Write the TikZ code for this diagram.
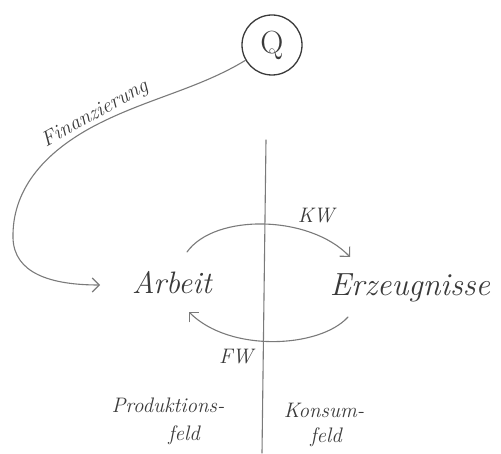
\documentclass[tikz,border=0pt]{standalone}
\usetikzlibrary{arrows.meta}
\definecolor{pencil}{HTML}{3A3A3A}
\definecolor{pencillight}{HTML}{7A7A7A}
\begin{document}
\begin{tikzpicture}[x=1pt,y=1pt,
  hand/.style={text=pencil,font=\itshape},
  small/.style={hand,font=\itshape\fontsize{21}{23}\selectfont},
  conn/.style={draw=pencillight,line width=1.1pt,line cap=round},
  tip/.style={-{Straight Barb[length=7pt,width=14pt,line width=1.1pt]}}]
\useasboundingbox (0,0) rectangle (501,453);
\node[circle,draw=pencil,line width=1.3pt,minimum size=60pt,inner sep=0pt,
      text=pencil,font=\fontsize{32}{34}\selectfont] (Q) at (272,408) {Q};
\node[hand,font=\itshape\fontsize{31}{33}\selectfont] (A) at (172,170) {Arbeit};
\node[hand,font=\itshape\fontsize{32}{34}\selectfont] (E) at (410,165) {Erzeugnisse};
\coordinate (aend) at (100,168);
\draw[conn,tip] (Q.210) .. controls (200,365) and (150,355) .. (100,330)
   .. controls (40,300) and (12,260) .. (13,215)
   .. controls (14,180) and (50,168) .. (aend);
\node[hand,font=\itshape\fontsize{21}{23}\selectfont,rotate=29] (fin) at (95,339) {Finanzierung};
% divider
\coordinate (vtop) at (266,313);
\coordinate (vbot) at (262,0);
\draw[conn] (vtop) -- (vbot);
% KW arc
\coordinate (kws) at (187,201);
\coordinate (kwe) at (350,196);
\draw[conn,tip] (kws) .. controls (215,240) and (310,238) .. (kwe);
\node[small] (kw) at (316,237) {KW};
% FW arc
\coordinate (fws) at (348,136);
\coordinate (fwe) at (189,141);
\draw[conn,tip] (fws) .. controls (320,105) and (230,100) .. (fwe);
\node[small] (fw) at (236,96) {FW};
% field labels
\node[small] (p1) at (168,48) {Produktions-};
\node[small] (p2) at (184,18) {feld};
\node[small] (k1) at (324,43) {Konsum-};
\node[small] (k2) at (326,16) {feld};
\end{tikzpicture}
\end{document}
